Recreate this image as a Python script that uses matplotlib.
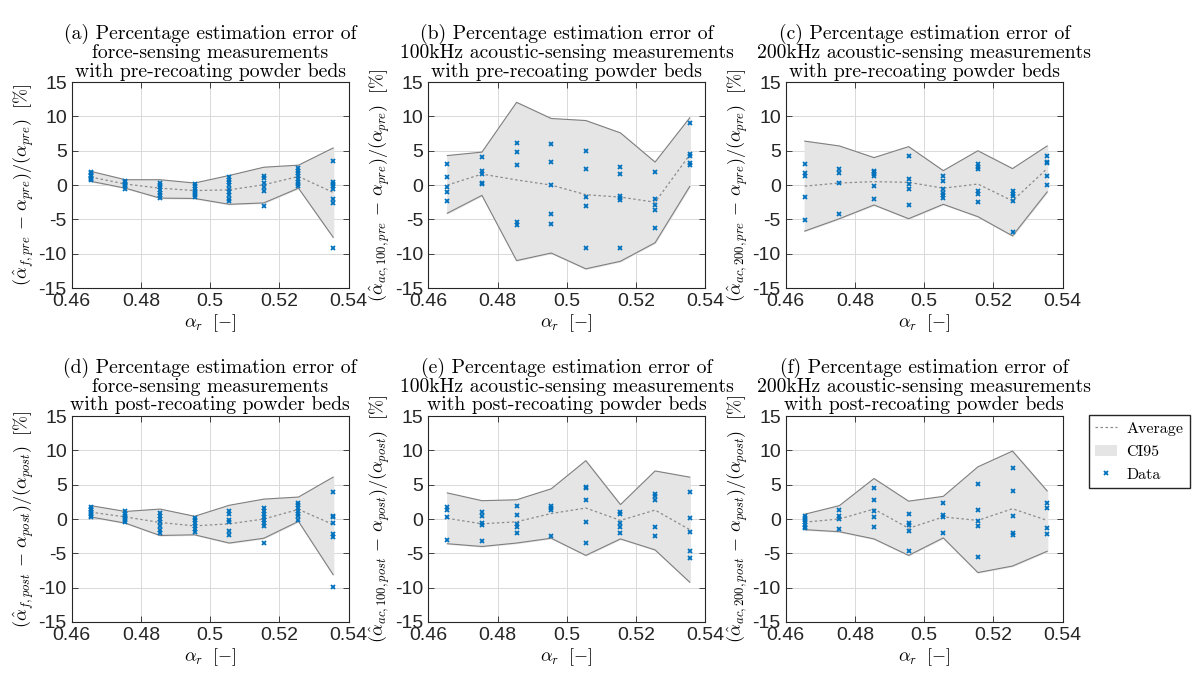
import numpy as np
import matplotlib
matplotlib.use('Agg')
import matplotlib.pyplot as plt
from matplotlib.lines import Line2D
from matplotlib.patches import Patch

plt.rcParams['font.family'] = ['Liberation Sans', 'DejaVu Sans']
plt.rcParams['mathtext.fontset'] = 'cm'
plt.rcParams['axes.unicode_minus'] = False

# x 位置（alpha_r）
alpha_r = [0.4655, 0.4755, 0.4855, 0.4955, 0.5055, 0.5155, 0.5255, 0.5355]

# (a) force, pre
data_a = [[1.9, 1.7, 1.5, 1.3, 1.1, 0.9, 0.7],
          [0.6, 0.4, 0.2, 0.0, -0.2, -0.5],
          [0.3, 0.0, -0.3, -0.7, -1.1, -1.5, -1.9],
          [0.15, -0.2, -0.5, -0.8, -1.1, -1.4, -1.75],
          [1.2, 0.8, 0.4, 0.0, -0.5, -1.0, -1.5, -2.0, -2.3],
          [1.35, 1.0, 0.3, -0.3, -0.9, -3.1],
          [2.5, 2.1, 1.7, 1.3, 0.9, 0.5, 0.1, -0.2],
          [3.45, 0.4, 0.1, -0.2, -0.5, -2.1, -2.6, -9.1]]
avg_a = [1.17, 0.15, -0.45, -0.8, -0.7, 0.05, 1.25, -1.07]
up_a = [2.0, 0.78, 0.78, 0.3, 1.4, 2.6, 2.9, 5.4]
lo_a = [0.55, -0.45, -1.9, -1.95, -2.8, -2.6, -0.45, -7.6]

# (b) 100kHz, pre
data_b = [[3.06, 1.17, -0.24, -1.07, -2.38],
          [4.08, 2.0, 1.65, 0.3, 0.15],
          [6.2, 4.86, 2.87, -5.4, -5.8],
          [6.0, 3.3, 0.05, -4.2, -5.6],
          [5.0, 2.3, -1.75, -3.1, -9.2],
          [2.6, 1.65, -1.65, -1.9, -2.2, -9.2],
          [1.9, -2.0, -2.9, -3.65, -6.2],
          [9.1, 4.5, 4.3, 3.2, 2.87]]
avg_b = [0.0, 1.6, 0.75, 0.0, -1.4, -1.75, -2.5, 4.4]
up_b = [4.3, 4.8, 12.05, 9.7, 9.4, 7.6, 3.35, 9.8]
lo_b = [-4.1, -1.5, -11.0, -9.9, -12.2, -11.1, -8.4, -0.2]

# (c) 200kHz, pre
data_c = [[3.0, 1.7, 1.36, -1.7, -5.1],
          [2.4, 1.75, 0.3, -4.2],
          [2.1, 1.9, 1.65, 1.26, -0.2, -2.1],
          [4.3, 0.9, 0.1, -0.6, -2.9],
          [1.26, 0.6, -0.5, -1.2, -1.4, -1.9],
          [3.06, 2.7, 2.4, -0.8, -1.3, -2.5],
          [-0.9, -1.3, -1.55, -2.3, -6.9],
          [4.3, 3.35, 3.15, 1.36, 0.05]]
avg_c = [-0.15, 0.3, 0.5, 0.4, -0.45, 0.15, -2.3, 2.4]
up_c = [6.4, 5.7, 4.0, 5.6, 2.1, 5.0, 2.4, 5.7]
lo_c = [-6.7, -4.9, -2.9, -4.9, -2.8, -4.6, -7.4, -1.0]

# (d) force, post
data_d = [[1.75, 1.5, 1.25, 1.0, 0.75, 0.5, 0.3],
          [1.1, 0.8, 0.5, 0.2, -0.1, -0.5],
          [0.9, 0.5, 0.0, -0.5, -1.0, -1.6, -2.05],
          [0.15, -0.2, -0.6, -1.0, -1.4, -1.95],
          [1.2, 0.7, -0.2, -0.5, -1.8, -2.3],
          [1.6, 1.2, 0.8, 0.3, -0.2, -0.6, -1.0, -3.5],
          [2.4, 2.0, 1.6, 1.2, 0.8, 0.4, -0.1],
          [3.9, 0.5, 0.3, -0.6, -2.2, -2.6, -9.85]]
avg_d = [1.0, 0.3, -0.5, -1.0, -0.7, 0.0, 1.4, -0.8]
up_d = [1.95, 1.1, 1.45, 0.4, 2.0, 2.9, 3.2, 6.1]
lo_d = [0.3, -0.6, -2.4, -2.3, -3.5, -2.8, -0.35, -8.1]

# (e) 100kHz, post
data_e = [[1.7, 1.3, 0.35, -3.05],
          [1.07, 0.4, -0.6, -0.9, -3.25],
          [1.9, 0.55, -0.7, -1.2, -2.1],
          [1.85, 1.55, 1.3, -2.5],
          [4.7, 4.5, 2.75, -0.45, -3.5],
          [1.07, 0.7, -0.6, -1.1, -2.1],
          [3.6, 3.3, 2.8, -1.2, -2.5],
          [3.9, 0.15, -1.95, -4.6, -5.7]]
avg_e = [0.1, -0.7, -0.4, 0.8, 1.6, -0.2, 1.3, -1.55]
up_e = [3.8, 2.67, 2.8, 4.4, 8.5, 2.1, 7.0, 6.1]
lo_e = [-3.6, -4.0, -3.5, -2.8, -5.3, -2.9, -4.5, -9.2]

# (f) 200kHz, post
data_f = [[0.4, 0.1, -0.2, -0.5, -0.8, -1.1, -1.3],
          [1.3, 0.4, 0.0, -1.4],
          [4.5, 2.7, 1.2, 0.35, -1.2],
          [0.8, -0.6, -0.8, -1.8, -4.6],
          [2.3, 0.55, 0.3, -2.0],
          [5.05, 1.25, -0.3, -1.0, -5.6],
          [7.5, 4.1, 0.4, -2.1, -2.3],
          [2.3, 1.65, -1.3, -2.2]]
avg_f = [-0.45, 0.0, 1.45, -1.35, 0.3, -0.2, 1.5, -0.2]
up_f = [0.7, 1.95, 5.9, 2.6, 3.3, 7.6, 9.9, 4.1]
lo_f = [-1.55, -1.85, -2.9, -5.3, -2.75, -7.8, -6.85, -4.7]

titles = [
    '(a) Percentage estimation error of\nforce-sensing measurements\nwith pre-recoating powder beds',
    '(b) Percentage estimation error of\n100kHz acoustic-sensing measurements\nwith pre-recoating powder beds',
    '(c) Percentage estimation error of\n200kHz acoustic-sensing measurements\nwith pre-recoating powder beds',
    '(d) Percentage estimation error of\nforce-sensing measurements\nwith post-recoating powder beds',
    '(e) Percentage estimation error of\n100kHz acoustic-sensing measurements\nwith post-recoating powder beds',
    '(f) Percentage estimation error of\n200kHz acoustic-sensing measurements\nwith post-recoating powder beds',
]
ylabels = [
    r'$(\hat{\alpha}_{f,pre}\,-\,\alpha_{pre})/(\alpha_{pre})\ \ [\%]$',
    r'$(\hat{\alpha}_{ac,100,pre}\,-\,\alpha_{pre})/(\alpha_{pre})\ \ [\%]$',
    r'$(\hat{\alpha}_{ac,200,pre}\,-\,\alpha_{pre})/(\alpha_{pre})\ \ [\%]$',
    r'$(\hat{\alpha}_{f,post}\,-\,\alpha_{post})/(\alpha_{post})\ \ [\%]$',
    r'$(\hat{\alpha}_{ac,100,post}\,-\,\alpha_{post})/(\alpha_{post})\ \ [\%]$',
    r'$(\hat{\alpha}_{ac,200,post}\,-\,\alpha_{post})/(\alpha_{post})\ \ [\%]$',
]
panels = [(data_a, avg_a, up_a, lo_a), (data_b, avg_b, up_b, lo_b),
          (data_c, avg_c, up_c, lo_c), (data_d, avg_d, up_d, lo_d),
          (data_e, avg_e, up_e, lo_e), (data_f, avg_f, up_f, lo_f)]

blue = '#0072BD'
fig = plt.figure(figsize=(11.95, 6.73), dpi=100)
lefts = [0.060, 0.3584, 0.6575]
bottoms = [0.572, 0.0758]
W, H = 0.2318, 0.306

for k, (data, avg, up, lo) in enumerate(panels):
    ax = fig.add_axes([lefts[k % 3], bottoms[k // 3], W, H])
    ax.fill_between(alpha_r, lo, up, color='#e5e5e5', zorder=1)
    ax.plot(alpha_r, up, color='#7f7f7f', lw=0.8, zorder=2)
    ax.plot(alpha_r, lo, color='#7f7f7f', lw=0.8, zorder=2)
    ax.plot(alpha_r, avg, color='#8c8c8c', lw=0.9, ls=(0, (2, 2)), zorder=3)
    for x, vals in zip(alpha_r, data):
        ax.plot([x] * len(vals), vals, 'x', color=blue, ms=3.2, mew=1.3, zorder=4)
    ax.set_xlim(0.46, 0.54)
    ax.set_ylim(-15, 15)
    ax.set_xticks([0.46, 0.48, 0.5, 0.52, 0.54])
    ax.set_xticklabels(['0.46', '0.48', '0.5', '0.52', '0.54'])
    ax.set_yticks([-15, -10, -5, 0, 5, 10, 15])
    ax.set_yticklabels(['-15', '-10', '-5', '0', '5', '10', '15'])
    ax.tick_params(labelsize=14, direction='in', top=True, right=True,
                   length=4, width=0.6, colors='#262626')
    ax.grid(True, color='#d9d9d9', lw=0.7)
    ax.set_axisbelow(True)
    for s in ax.spines.values():
        s.set_color('#262626')
        s.set_linewidth(0.8)
    ax.set_title(titles[k], fontfamily='cmr10', fontsize=14.2, linespacing=1.02, pad=4)
    ax.set_ylabel(ylabels[k], fontsize=13, labelpad=2)
    ax.set_xlabel(r'$\alpha_r\ \ [-]$', fontsize=13, labelpad=2)

handles = [Line2D([], [], color='#8c8c8c', lw=0.9, ls=(0, (2, 2))),
           Patch(facecolor='#e5e5e5', edgecolor='none'),
           Line2D([], [], marker='x', ls='none', color=blue, ms=3.2, mew=1.3)]
fig.legend(handles, ['Average', 'CI95', 'Data'], loc='upper left',
           bbox_to_anchor=(0.911, 0.383), prop={'family': 'cmr10', 'size': 11.5},
           fancybox=False, edgecolor='#262626', framealpha=1,
           handlelength=1.4, handletextpad=0.55, borderpad=0.4, labelspacing=0.55,
           borderaxespad=0)

fig.savefig('out.png', dpi=100)
